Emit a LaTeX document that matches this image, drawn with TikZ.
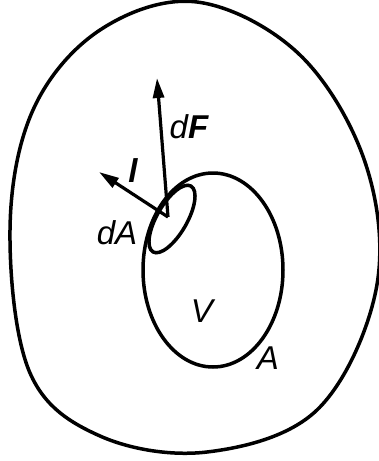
\documentclass[tikz,border=0pt]{standalone}
\usepackage{fontspec}
\setmainfont{Liberation Sans}
\usetikzlibrary{arrows.meta}

\begin{document}
\begin{tikzpicture}[x=1pt, y=-1pt,
  curve/.style={line width=3.5pt},
  vec/.style={-{Triangle[length=20pt, width=11pt]}, line width=3.2pt},
  lbl/.style={font=\fontsize{33}{38}\selectfont\itshape, inner sep=0pt}]
\useasboundingbox (0,0) rectangle (379,461);
\draw[curve] plot[smooth cycle, tension=0.6] coordinates {(197,2) (300,55) (366,165) (376,290) (317,410) (207,452) (100,436) (30,373) (10,230) (33,110) (100,30)};
\draw[curve] (213,270) ellipse [x radius=70pt, y radius=97pt];
\draw[curve, shift={(172,219)}, rotate=60] (0,0) ellipse [x radius=38pt, y radius=15pt];
\coordinate (o) at (168,217);
\coordinate (ftip) at (157,78);
\coordinate (ltip) at (99,172);
\draw[vec] (o) -- (ftip);
\draw[vec] (o) -- (ltip);
\node[lbl] (dF) at (189,127) {d\textbf{F}};
\node[lbl] (l) at (133,171) {\textbf{l}};
\node[lbl] (dA) at (117,233) {dA};
\node[lbl] (V) at (202,311) {V};
\node[lbl] (A) at (268,358) {A};
\end{tikzpicture}
\end{document}
